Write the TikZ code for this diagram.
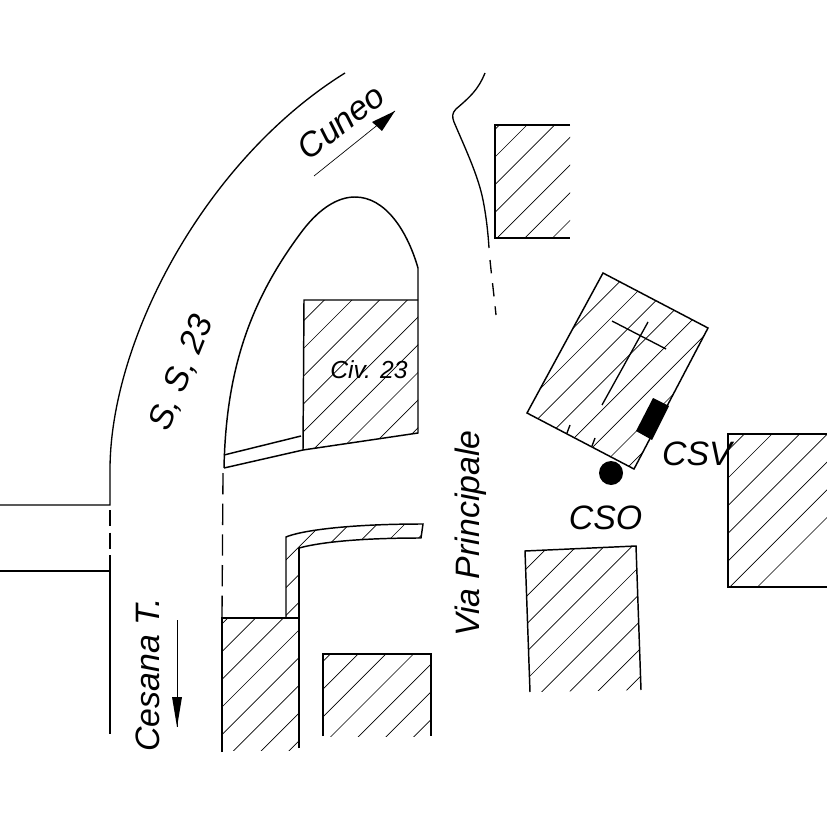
\documentclass[tikz,border=0pt]{standalone}
\usepackage{fontspec}
\setmainfont{Liberation Sans}
\tikzset{
  wall/.style={line width=1.1pt,black,line join=miter},
  road/.style={line width=1pt,black},
  dash road/.style={line width=1pt,black,dash pattern=on 10pt off 7.5pt},
  dash west/.style={line width=1pt,black,dash pattern=on 12pt off 5pt},
  dash inner/.style={line width=1pt,black,dash pattern=on 16pt off 7pt},
  thin line/.style={line width=0.5pt,black},
  lab/.style={inner sep=0pt,font=\itshape\fontsize{25.4}{25.4}\selectfont},
  hatchline/.style={line width=0.5pt,black}
}
\newcommand{\hatchin}[1]{%
  \begin{scope}
    \clip #1 -- cycle;
    \foreach \k in {-2,...,25}{
      \pgfmathsetmacro{\c}{652+27.7*\k}
      \draw[hatchline] (\c,0) -- (0,\c);
    }
  \end{scope}}
\begin{document}
\begin{tikzpicture}[x=0.75pt,y=-0.75pt]
\useasboundingbox (0,0) rectangle (827,827);
% hatching
\hatchin{(495,125) -- (570,125) -- (570,238) -- (495,238)}
\hatchin{(304,300) -- (418,300) -- (418,433) -- (303,450)}
\hatchin{(603,273) -- (708,328) -- (634,469) -- (527,413)}
\hatchin{(728,434) -- (827,434) -- (827,587) -- (728,587)}
\hatchin{(525,551) -- (636,546) -- (641,690) -- (530,692)}
\hatchin{(222,618) -- (299,618) -- (299,750) -- (222,750)}
\hatchin{(323,654) -- (431,654) -- (431,736) -- (323,736)}
\hatchin{(286,537) .. controls (300,531) and (345,524) .. (423,524) -- (421,538) .. controls (370,538) and (325,541) .. (299,548) -- (299,618) -- (286,618)}
% buildings
\draw[wall] (570,125) -- (495,125) -- (495,238) -- (570,238);
\draw[wall] (418,300) -- (304,300) -- (303,450);
\draw[wall] (603,273) -- (708,328) -- (634,469) -- (527,413) -- cycle;
\draw[wall] (827,434) -- (728,434) -- (728,587) -- (827,587);
\draw[wall] (530,692) -- (525,551) -- (636,546) -- (641,690);
\draw[wall] (222,752) -- (222,618) -- (299,618);
\draw[wall] (299,748) -- (299,548);
\draw[wall] (323,736) -- (323,654) -- (431,654) -- (431,736);
\draw[wall] (286,618) -- (286,537) .. controls (300,531) and (345,524) .. (423,524) -- (421,538) .. controls (370,538) and (325,541) .. (299,548);
% church
\draw[road] (612,321) -- (666,349);
\draw[road] (648,322) -- (602,405);
\draw[road] (570,425) -- (567,433);
\draw[road] (595,438) -- (592,446);
\fill[black] (653,398) -- (669,406) -- (652,440) -- (636,431) -- cycle;
\fill[black] (611,473) circle[radius=12];
% roads
\draw[road] (345,73) .. controls (205,160) and (110,340) .. (110,470) -- (110,505) -- (0,505);
\draw[road] (0,571) -- (110,571) -- (110,734);
\draw[dash west] (110,510) -- (110,571);
\draw[wall] (224,468) .. controls (226,370) and (250,300) .. (303,230) .. controls (320,208) and (338,197) .. (355,197) .. controls (385,197) and (407,230) .. (418,268) -- (418,433) -- (303,450) -- (224,468);
\draw[wall] (224,455) -- (301,436);
\draw[dash inner] (223,473) -- (222,618);
\draw[road] (485,73) .. controls (478,90) and (470,97) .. (456,109) .. controls (452,113) and (452,117) .. (454,122) .. controls (465,148) and (478,175) .. (483,200) .. controls (486,215) and (488,232) .. (489,248);
\draw[dash road] (490,260) .. controls (492,280) and (494,295) .. (496,315);
% direction arrows
\draw[thin line] (314,176) -- (395,111);
\fill[black] (395,111) -- (372,122) -- (382,131) -- cycle;
\draw[thin line] (177,620) -- (177,727);
\fill[black] (177,727) -- (172,697) -- (182,697) -- cycle;
% labels
\node[lab,rotate=38] (cuneo) at (341,122) {Cuneo};
\node[lab,rotate=68] (ss) at (182,373) {S, S, 23};
\node[lab,rotate=90] (cesana) at (148,675) {Cesana T.};
\node[lab,rotate=90] (via) at (471,533.5) {Via Principale};
\node[lab] (csv) at (697,454) {CSV};
\node[lab] (cso) at (605.5,518) {CSO};
\node[inner sep=0pt,font=\itshape\fontsize{18.5}{18.5}\selectfont] (civ) at (369,370) {Civ. 23};
\end{tikzpicture}
\end{document}
